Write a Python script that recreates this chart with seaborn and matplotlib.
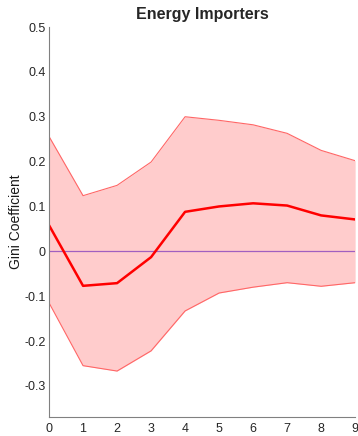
import numpy as np
import pandas as pd
import seaborn as sns
import matplotlib
matplotlib.use('Agg')
import matplotlib.pyplot as plt

horizon = [0, 1, 2, 3, 4, 5, 6, 7, 8, 9]
gini_mean = [0.058, -0.077, -0.071, -0.013, 0.088, 0.100, 0.107, 0.102, 0.080, 0.071]
gini_upper = [0.256, 0.124, 0.147, 0.199, 0.300, 0.292, 0.282, 0.263, 0.225, 0.202]
gini_lower = [-0.115, -0.255, -0.267, -0.222, -0.133, -0.093, -0.080, -0.070, -0.078, -0.070]

df = pd.DataFrame({'horizon': horizon, 'mean': gini_mean,
                   'upper': gini_upper, 'lower': gini_lower})

sns.set_style('white')
plt.rcParams['font.family'] = ['Liberation Sans', 'DejaVu Sans']

fig = plt.figure(figsize=(3.58, 4.36), dpi=100)
ax = fig.add_axes([0.137, 0.043, 0.855, 0.895])

ax.fill_between(df['horizon'], df['lower'], df['upper'], color='#ffcccc', lw=0)
sns.lineplot(x='horizon', y='upper', data=df, ax=ax, color='#ff6666', lw=0.8)
sns.lineplot(x='horizon', y='lower', data=df, ax=ax, color='#ff6666', lw=0.8)
ax.axhline(0, color='#a060c0', lw=0.9)
sns.lineplot(x='horizon', y='mean', data=df, ax=ax, color='red', lw=1.8)

ax.set_xlim(0, 9)
ax.set_ylim(-0.37, 0.5)
ax.set_xticks(horizon)
ax.set_yticks([-0.3, -0.2, -0.1, 0, 0.1, 0.2, 0.3, 0.4, 0.5])
ax.set_yticklabels(['-0.3', '-0.2', '-0.1', '0', '0.1', '0.2', '0.3', '0.4', '0.5'])
ax.set_xlabel('')
ax.set_ylabel('Gini Coefficient', fontsize=10, color='#1a1a1a', labelpad=1)
ax.set_title('Energy Importers', fontsize=11.5, fontweight='bold', pad=6)

for side in ['top', 'right']:
    ax.spines[side].set_visible(False)
for side in ['left', 'bottom']:
    ax.spines[side].set_color('#808080')
    ax.spines[side].set_linewidth(0.8)
ax.tick_params(direction='in', length=3, width=0.6, colors='#808080',
               labelcolor='#262626', labelsize=9)
ax.tick_params(axis='x', pad=4)
ax.tick_params(axis='y', pad=2.5)

fig.savefig('out.png', dpi=100)
